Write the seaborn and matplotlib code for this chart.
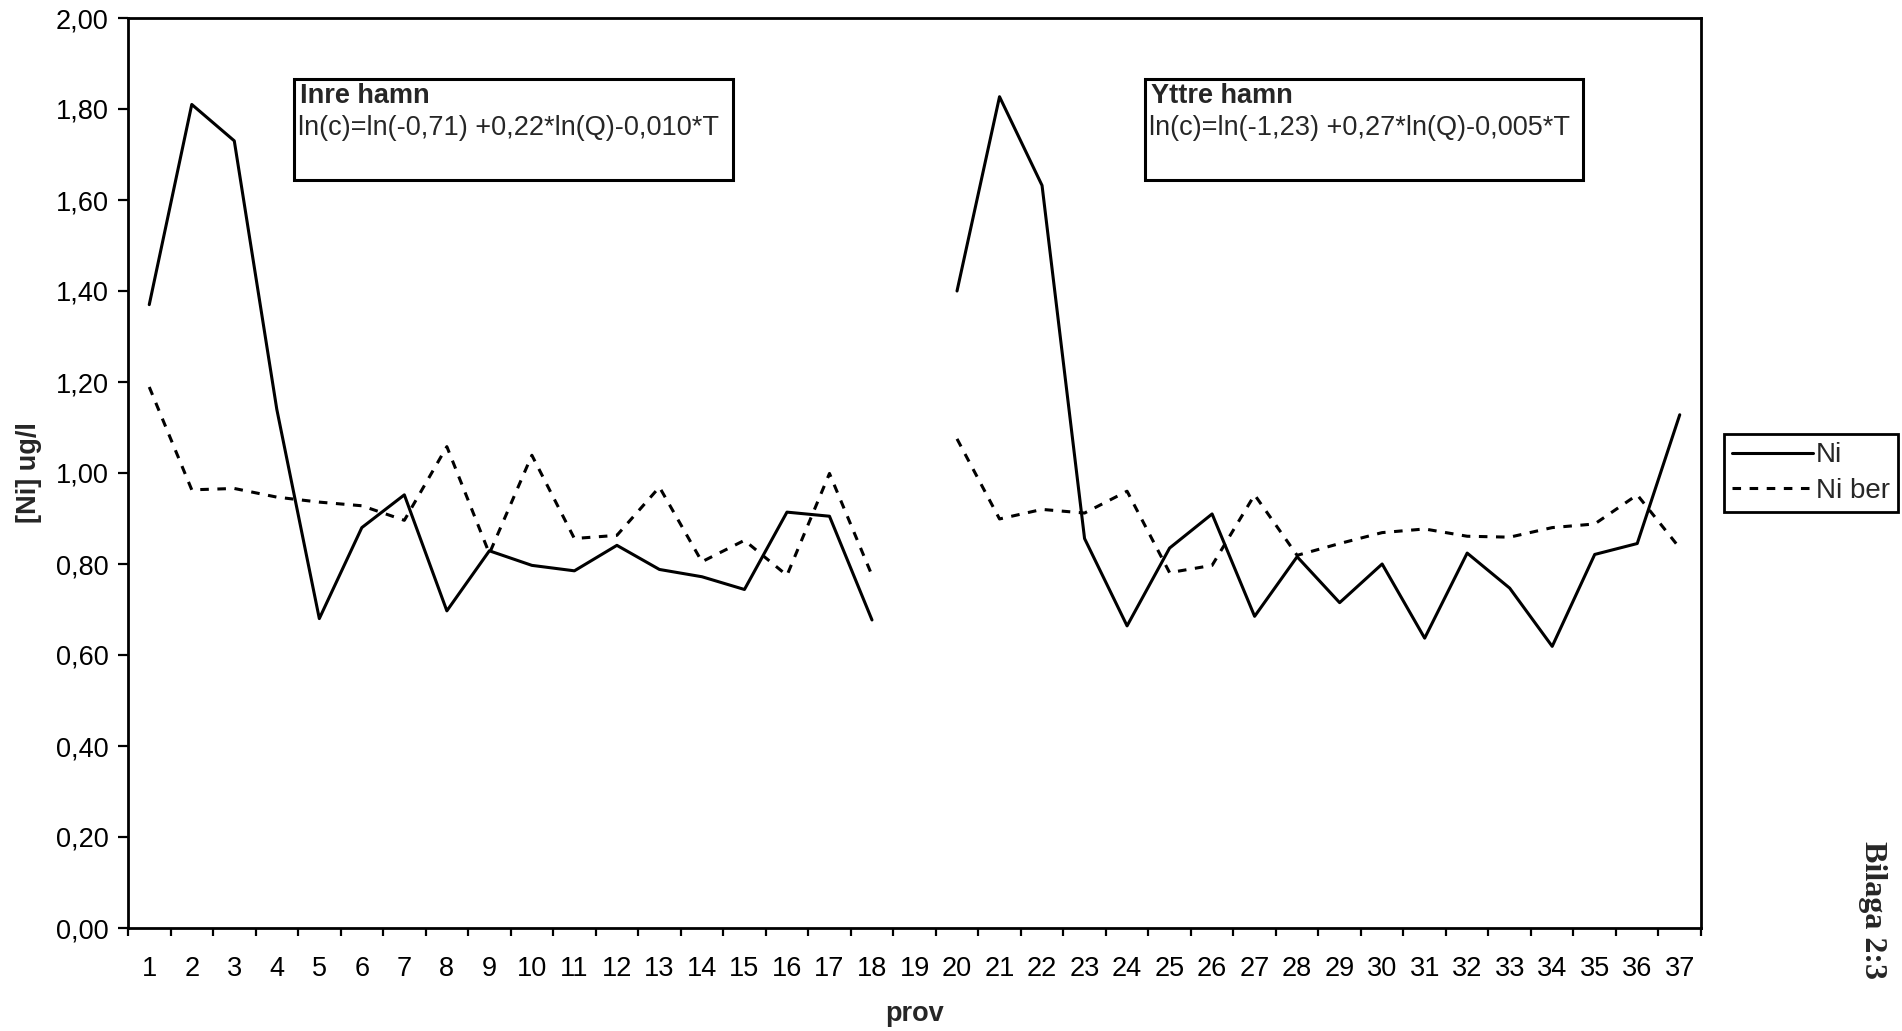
import numpy as np
import pandas as pd
import matplotlib
matplotlib.use("Agg")
import matplotlib.pyplot as plt
import seaborn as sns
from matplotlib.lines import Line2D
from matplotlib.patches import Rectangle
from matplotlib.ticker import FuncFormatter, MultipleLocator

# ---------------- data ----------------
prov_labels = [str(i) for i in range(1, 38)]
prov_inre = list(range(1, 19))      # samples 1-18 (Inre hamn)
prov_yttre = list(range(20, 38))    # samples 20-37 (Yttre hamn)

ni_inre = [1.37, 1.81, 1.73, 1.14, 0.68, 0.88, 0.952, 0.697, 0.829, 0.797,
           0.785, 0.841, 0.788, 0.772, 0.744, 0.914, 0.905, 0.677]
ni_ber_inre = [1.189, 0.963, 0.966, 0.947, 0.936, 0.928, 0.896, 1.058, 0.823, 1.039,
               0.856, 0.863, 0.969, 0.805, 0.852, 0.775, 0.999, 0.775]

ni_yttre = [1.40, 1.827, 1.632, 0.856, 0.664, 0.835, 0.91, 0.685, 0.816, 0.715,
            0.80, 0.637, 0.824, 0.747, 0.619, 0.821, 0.845, 1.128]
ni_ber_yttre = [1.075, 0.899, 0.92, 0.912, 0.96, 0.781, 0.797, 0.952, 0.819, 0.845,
                0.869, 0.877, 0.861, 0.859, 0.88, 0.888, 0.952, 0.835]

series_names = ["Ni", "Ni ber"]
box_titles = ["Inre hamn", "Yttre hamn"]
box_formulas = ["ln(c)=ln(-0,71) +0,22*ln(Q)-0,010*T",
                "ln(c)=ln(-1,23) +0,27*ln(Q)-0,005*T"]

rows = []
for seg, (xs, a, b) in enumerate([(prov_inre, ni_inre, ni_ber_inre),
                                  (prov_yttre, ni_yttre, ni_ber_yttre)]):
    for x, v in zip(xs, a):
        rows.append({"prov": x, "value": v, "series": "Ni", "seg": seg})
    for x, v in zip(xs, b):
        rows.append({"prov": x, "value": v, "series": "Ni ber", "seg": seg})
df = pd.DataFrame(rows)

# ---------------- style ----------------
sns.set_style("white")
plt.rcParams["font.family"] = ["Liberation Sans", "DejaVu Sans"]

W, H = 1902, 1031
fig = plt.figure(figsize=(W / 100, H / 100), dpi=100)
L, R, T, B = 128, 1701, 18, 928
ax = fig.add_axes([L / W, 1 - B / H, (R - L) / W, (B - T) / H])

lw = 2.2
dash = (2.8, 2.8)
sns.lineplot(data=df, x="prov", y="value", style="series", units="seg",
             estimator=None, color="black", linewidth=lw,
             dashes={"Ni": "", "Ni ber": dash}, legend=False, ax=ax,
             sort=True)

ax.set_xlim(0.5, 37.5)
ax.set_ylim(0, 2.0)

ax.set_xticks(range(1, 38))
ax.set_xticklabels(prov_labels)
ax.set_xticks(np.arange(0.5, 38, 1.0), minor=True)
ax.yaxis.set_major_locator(MultipleLocator(0.2))
ax.yaxis.set_major_formatter(FuncFormatter(lambda v, p: f"{v:.2f}".replace(".", ",")))

ax.tick_params(axis="x", which="major", length=0, pad=20, labelsize=19.5, colors="black")
ax.tick_params(axis="x", which="minor", length=6, width=1.6, direction="out", bottom=True, color="black")
ax.tick_params(axis="y", which="major", length=7, width=1.6, direction="out", left=True,
               pad=7, labelsize=19.5, colors="black")

for s in ax.spines.values():
    s.set_visible(True)
    s.set_color("black")
    s.set_linewidth(2.0)

ax.set_xlabel("prov", fontsize=19.5, fontweight="bold")
ax.set_ylabel("[Ni] ug/l", fontsize=19.5, fontweight="bold")
ax.xaxis.set_label_coords(0.5, -0.080)
ax.yaxis.set_label_coords(-0.0545, 0.5)
ax.grid(False)

# annotation boxes
boxes = [(294, 79, 733, 180), (1145, 79, 1583, 180)]
for (x0, y0, x1, y1), title, formula in zip(boxes, box_titles, box_formulas):
    fig.add_artist(Rectangle((x0 / W, 1 - y1 / H), (x1 - x0) / W, (y1 - y0) / H,
                             transform=fig.transFigure, fill=False,
                             edgecolor="black", linewidth=2.2))
    fig.text((x0 + 6) / W, 1 - 96 / H, title, fontsize=19.5, fontweight="bold",
             ha="left", va="center")
    fig.text((x0 + 4) / W, 1 - 128 / H, formula, fontsize=19.5,
             ha="left", va="center")

# legend
handles = [Line2D([], [], color="black", lw=lw, linestyle="-"),
           Line2D([], [], color="black", lw=lw, dashes=dash)]
leg = fig.legend(handles, series_names, loc="upper left",
                 bbox_to_anchor=(1724 / W, 1 - 434 / H), fontsize=20,
                 frameon=True, fancybox=False, shadow=False, framealpha=1,
                 edgecolor="black", borderpad=0.3, handlelength=2.9,
                 handletextpad=0.1, labelspacing=0.35, borderaxespad=0)
leg.get_frame().set_linewidth(2.0)

fig.text(1872 / W, 1 - 910 / H, "Bilaga 2:3", rotation=-90, ha="center", va="center",
         fontsize=23, fontweight="bold", family=["Liberation Serif", "DejaVu Serif"])

fig.savefig("out.png", dpi=100, facecolor="white")
